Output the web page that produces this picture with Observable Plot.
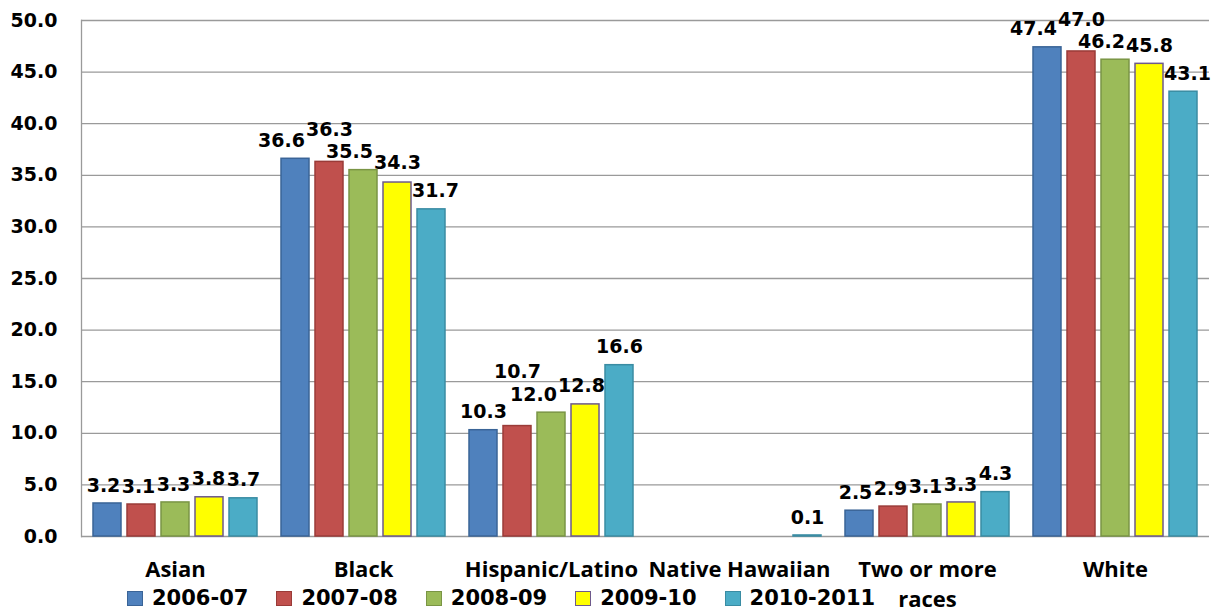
<!DOCTYPE html>
<html>
<head>
<meta charset="utf-8">
<script src="https://cdn.jsdelivr.net/npm/d3@7"></script>
<script src="https://cdn.jsdelivr.net/npm/@observablehq/plot@0.6"></script>
<style>
  html, body { margin: 0; padding: 0; background: #fff; }
  #wrap { position: relative; width: 1228px; height: 612px; overflow: hidden; }
  #legend { position: absolute; left: 127px; top: 586px; display: flex; align-items: center;
            font-family: "DejaVu Sans", Verdana, sans-serif; font-weight: bold; font-size: 21px; color: #000; }
  .item { display: flex; align-items: center; margin-right: 28px; }
  .sw { width: 14px; height: 13px; margin-right: 9px; border: 1px solid #000; }
</style>
</head>
<body>
<div id="wrap"><div id="chart"></div><div id="legend"></div></div>
<script>
const categories = ["Asian", "Black", "Hispanic/Latino", "Native Hawaiian", "Two or more races", "White"];
const categoryLabels = ["Asian", "Black", "Hispanic/Latino", "Native Hawaiian", "Two or more\nraces", "White"];
const series = ["2006-07", "2007-08", "2008-09", "2009-10", "2010-2011"];
const v2006_07 = [3.2, 36.6, 10.3, null, 2.5, 47.4];
const v2007_08 = [3.1, 36.3, 10.7, null, 2.9, 47.0];
const v2008_09 = [3.3, 35.5, 12.0, null, 3.1, 46.2];
const v2009_10 = [3.8, 34.3, 12.8, null, 3.3, 45.8];
const v2010_11 = [3.7, 31.7, 16.6, 0.1, 4.3, 43.1];
const yTicks = [0, 5, 10, 15, 20, 25, 30, 35, 40, 45, 50];
const fillColors = ["#4F81BD", "#C0504D", "#9BBB59", "#FFFF00", "#4BACC6"];
const strokeColors = ["#3A6497", "#9A3B38", "#7A9545", "#6E5A8C", "#3A8CA3"];

const seriesValues = [v2006_07, v2007_08, v2008_09, v2009_10, v2010_11];
const rows = [];
categories.forEach((c, ci) => {
  series.forEach((s, si) => {
    const v = seriesValues[si][ci];
    if (v != null) rows.push({category: c, series: s, value: v, si, ci});
  });
});

const fmt = d3.format(".1f");
const labelFont = {fontSize: 19, fontWeight: "bold", fontFamily: "DejaVu Sans"};
const catFont = {fontSize: 22, fontWeight: "bold", fontFamily: "Open Sans"};
const W = 1228;
const catLine = k => c => (categoryLabels[categories.indexOf(c)].split("\n")[k] || "");

function makePlot(extraMarks) {
  return Plot.plot({
    width: W,
    height: 612,
    marginLeft: 79,
    marginRight: 18,
    marginTop: 20,
    marginBottom: 76,
    style: {background: "#fff"},
    fx: {domain: categories, padding: 0, label: null, axis: null},
    x: {domain: series, paddingInner: 0.17, paddingOuter: 0.28, axis: null},
    y: {domain: [0, 50], axis: null},
    marks: [
      Plot.gridY(yTicks, {stroke: "#9a9a9a", strokeOpacity: 1, strokeWidth: 1.3}),
      Plot.frame({anchor: "left", stroke: "#9a9a9a", strokeWidth: 1.3, fx: () => categories[0]}),
      Plot.axisY({ticks: yTicks, tickFormat: fmt, tickSize: 0, tickPadding: 24,
        ...labelFont, fill: "#000", label: null}),
      Plot.axisFx({anchor: "bottom", tickSize: 0, tickPadding: 25, tickFormat: catLine(0),
        ...catFont, fill: "#000", label: null}),
      Plot.axisFx({anchor: "bottom", tickSize: 0, tickPadding: 55, tickFormat: catLine(1),
        ...catFont, fill: "#000", label: null}),
      Plot.barY(rows, {fx: "category", x: "series", y: "value",
        fill: d => fillColors[d.si], stroke: d => strokeColors[d.si], strokeWidth: 1.5}),
      ...extraMarks
    ]
  });
}

// Probe render to read the scales, then place value labels so they do not collide.
const probe = makePlot([]);
const ys = probe.scale("y"), xs = probe.scale("x"), fxs = probe.scale("fx");
const bw = xs.bandwidth;
const xr0 = Math.min(...xs.range);
const ctx = document.createElement("canvas").getContext("2d");
ctx.font = `bold ${labelFont.fontSize}px "${labelFont.fontFamily}"`;
const EM_H = 22, GLYPH_H = 14, BASE_DY = -18;

const bars = rows.map(r => {
  const left = fxs.apply(r.category) + xs.apply(r.series) - xr0;
  return {x1: left, x2: left + bw, y1: ys.apply(r.value), y2: ys.apply(0)};
});
const overlap = (a, b) => a.x1 < b.x2 && b.x1 < a.x2 && a.y1 < b.y2 && b.y1 < a.y2;
const placed = [];
const offsets = new Array(rows.length);
// place labels right to left, preferring the spot centred just above each bar
const order = rows.map((r, i) => i).sort((a, b) => rows[b].ci - rows[a].ci || rows[b].si - rows[a].si);
for (const i of order) {
  const r = rows[i];
  const w = ctx.measureText(fmt(r.value)).width;
  const cx0 = (bars[i].x1 + bars[i].x2) / 2;
  const top = bars[i].y1;
  let best = null;
  for (let dx = -30; dx <= 30; dx++) {
    for (let ddy = -40; ddy <= 14; ddy++) {
      const cost = Math.abs(dx) + 1.2 * Math.abs(ddy);
      if (best && cost >= best.cost) continue;
      const cx = cx0 + dx, cy = top + BASE_DY + ddy;
      const em = {x1: cx - w / 2 - 0.5, x2: cx + w / 2 + 0.5, y1: cy - EM_H / 2, y2: cy + EM_H / 2};
      const glyph = {x1: cx - w / 2, x2: cx + w / 2, y1: cy - GLYPH_H / 2, y2: cy + GLYPH_H / 2};
      if (glyph.y2 > top - 3 || em.y1 < 0 || em.x2 > W - 1) continue;
      if (placed.some(p => overlap(p, em))) continue;
      if (bars.some(b => overlap(b, glyph))) continue;
      best = {cost, dx, dy: BASE_DY + ddy, em};
    }
  }
  if (!best) best = {dx: 0, dy: BASE_DY, em: null};
  if (best.em) placed.push(best.em);
  offsets[i] = best;
}

const labelMarks = rows.map((r, i) =>
  Plot.text([r], {fx: "category", x: "series", y: "value", text: d => fmt(d.value),
    dx: offsets[i].dx, dy: offsets[i].dy, ...labelFont, fill: "#000"}));

const chart = makePlot(labelMarks);
document.getElementById("chart").appendChild(chart);

const legend = document.getElementById("legend");
series.forEach((s, i) => {
  const item = document.createElement("div");
  item.className = "item";
  const sw = document.createElement("span");
  sw.className = "sw";
  sw.style.background = fillColors[i];
  sw.style.borderColor = strokeColors[i];
  const t = document.createElement("span");
  t.textContent = s;
  item.appendChild(sw);
  item.appendChild(t);
  legend.appendChild(item);
});
</script>
</body>
</html>
